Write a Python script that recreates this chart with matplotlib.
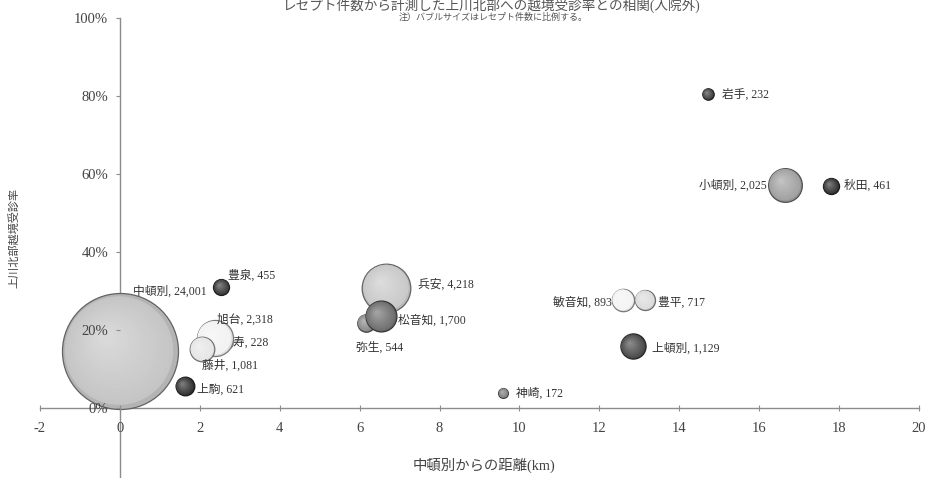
import numpy as np
import matplotlib
matplotlib.use("Agg")
import matplotlib.pyplot as plt
from matplotlib.transforms import offset_copy
from matplotlib.colors import to_rgb

plt.rcParams['font.family'] = ['Liberation Serif', 'Noto Sans CJK JP', 'DejaVu Sans']

# ---- data ----
names = ["中頓別", "豊泉", "寿", "旭台", "藤井", "上駒", "兵安", "弥生", "松音知",
         "神崎", "敏音知", "豊平", "上頓別", "岩手", "小頓別", "秋田"]
distance_km = [0.0, 2.54, 2.69, 2.37, 2.06, 1.62, 6.67, 6.16, 6.53,
               9.60, 12.59, 13.14, 12.84, 14.72, 16.65, 17.80]
rate = [0.145, 0.310, 0.167, 0.179, 0.151, 0.056, 0.308, 0.218, 0.235,
        0.038, 0.277, 0.277, 0.158, 0.805, 0.572, 0.569]
counts = [24001, 455, 228, 2318, 1081, 621, 4218, 544, 1700,
          172, 893, 717, 1129, 232, 2025, 461]
x_ticks = [-2, 0, 2, 4, 6, 8, 10, 12, 14, 16, 18, 20]
y_ticks = [0.0, 0.2, 0.4, 0.6, 0.8, 1.0]

# ---- styles ----
base_colors = ["#c4c4c4", "#3a3a3a", "#eeeeee", "#f2f2f2", "#e6e6e6", "#333333",
               "#c8c8c8", "#8a8a8a", "#6e6e6e", "#808080", "#f3f3f3", "#dcdcdc",
               "#4a4a4a", "#404040", "#a0a0a0", "#333333"]
# label offsets in pixels (dx, dy up positive) and horizontal alignment
label_off = [(87, 60, "right"), (7, 12, "left"), (6, -1, "left"), (2, 19, "left"),
             (28, -16, "center"), (12, -3, "left"), (32, 3, "left"), (14, -25, "center"),
             (17, -4.5, "left"), (13, 0, "left"), (-11, -3, "right"), (13, -3, "left"),
             (19, -2.5, "left"), (14, -1, "left"), (-18, -1, "right"), (13, 0, "left")]

W, H = 929, 478
fig = plt.figure(figsize=(W / 100, H / 100), dpi=100)
left_px, right_px, top_px = 40, 919, 18
ymin = -(H - 408) / 390.0
ax = fig.add_axes([left_px / W, 0, (right_px - left_px) / W, (H - top_px) / H])
ax.set_xlim(-2, 20)
ax.set_ylim(ymin, 1.0)
ax.patch.set_alpha(0)

for s in ["top", "right"]:
    ax.spines[s].set_visible(False)
ax.spines["left"].set_position(("data", 0))
ax.spines["bottom"].set_position(("data", 0))
for s in ["left", "bottom"]:
    ax.spines[s].set_color("#8c8c8c")
    ax.spines[s].set_linewidth(1.0)
    ax.spines[s].set_zorder(1)
ax.xaxis.set_zorder(30)
ax.yaxis.set_zorder(30)

ax.set_xticks(x_ticks)
ax.set_xticklabels([f"{v}" for v in x_ticks])
ax.set_yticks(y_ticks)
ax.set_yticklabels([f"{int(round(v * 100))}%" for v in y_ticks])
ax.tick_params(axis="x", direction="inout", length=4, color="#8c8c8c", pad=8,
               labelsize=10.5, labelcolor="#444444")
ax.tick_params(axis="y", direction="out", length=3, color="#8c8c8c", pad=5.5,
               labelsize=10.5, labelcolor="#444444")

# bubble scaling: radius 58 px for 24001
ref_r_px = 58.0
def size_pts2(n):
    r_pt = ref_r_px * np.sqrt(n / 24001.0) * 0.72
    return (2 * r_pt) ** 2

def mix(c, w, t):
    c = np.array(to_rgb(c)); w = np.array(to_rgb(w))
    return tuple(c * (1 - t) + w * t)

z = 3
for i, (xv, yv, n, c) in enumerate(zip(distance_km, rate, counts, base_colors)):
    s0 = size_pts2(n)
    r_pt = np.sqrt(s0) / 2
    edge = mix(c, "#000000", 0.5)
    ax.scatter([xv], [yv], s=s0, color=mix(c, "#000000", 0.08), edgecolors=edge,
               linewidths=0.9, zorder=z, clip_on=False)
    z += 0.01
    layers = 16
    for k in range(1, layers + 1):
        f = 1 - k / (layers + 2.0)
        dx = -(1 - f) * r_pt * 0.28
        dy = (1 - f) * r_pt * 0.28
        tr = offset_copy(ax.transData, fig=fig, x=dx, y=dy, units="points")
        col = mix(c, "#ffffff", (1 - f) * 0.4)
        ax.scatter([xv], [yv], s=s0 * f * f * 0.98, color=col, edgecolors="none",
                   transform=tr, zorder=z, clip_on=False)
        z += 0.01

for i, (nm, xv, yv, n) in enumerate(zip(names, distance_km, rate, counts)):
    dx, dy, ha = label_off[i]
    ax.annotate(f"{nm}, {n:,}", xy=(xv, yv), xytext=(dx * 0.72, dy * 0.72),
                textcoords="offset points", ha=ha, va="center", fontsize=8.5,
                color="#333333", zorder=40)

fig.text(491 / W, 1 - 6 / H, "レセプト件数から計測した上川北部への越境受診率との相関(入院外)",
         ha="center", va="center", fontsize=9.8, color="#555555")
fig.text(493 / W, 1 - 17 / H, "注）バブルサイズはレセプト件数に比例する。",
         ha="center", va="center", fontsize=6.5, color="#555555")
fig.text(484 / W, 1 - 465 / H, "中頓別からの距離(km)", ha="center", va="center",
         fontsize=10.4, color="#444444")
fig.text(15 / W, 1 - 238 / H, "上川北部越境受診率", ha="center", va="center",
         rotation=90, fontsize=8, color="#444444")

fig.savefig("out.png", dpi=100)
